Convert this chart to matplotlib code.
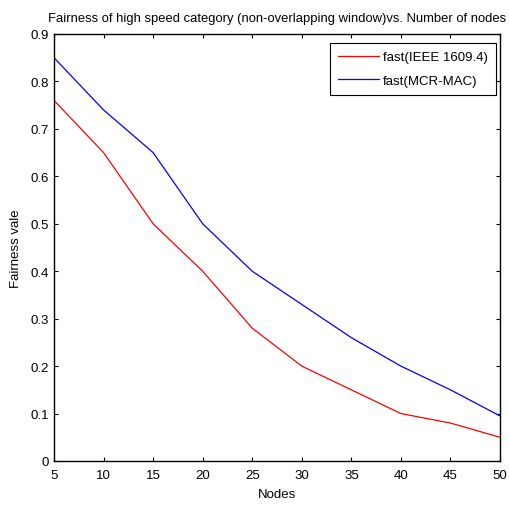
import matplotlib
matplotlib.use("Agg")
import matplotlib.pyplot as plt

nodes = [5, 10, 15, 20, 25, 30, 35, 40, 45, 50]
ieee = [0.76, 0.65, 0.50, 0.40, 0.28, 0.20, 0.15, 0.10, 0.08, 0.05]
mcr = [0.85, 0.74, 0.65, 0.50, 0.40, 0.33, 0.26, 0.20, 0.15, 0.095]
yticks = [0, 0.1, 0.2, 0.3, 0.4, 0.5, 0.6, 0.7, 0.8, 0.9]

plt.rcParams['font.family'] = ['Liberation Sans', 'DejaVu Sans']
plt.rcParams['font.size'] = 9.5

fig = plt.figure(figsize=(5.09, 5.06), dpi=100)
ax = fig.add_axes([54 / 509, 1 - 462 / 506, (500 - 54) / 509, (462 - 35) / 506])

ax.plot(nodes, ieee, color='red', lw=0.9, label='fast(IEEE 1609.4)')
ax.plot(nodes, mcr, color='blue', lw=0.9, label='fast(MCR-MAC)')

ax.set_xlim(5, 50)
ax.set_ylim(0, 0.9)
ax.set_xticks(nodes)
ax.set_yticks(yticks)
ax.set_yticklabels([f"{v:g}" for v in yticks])
ax.tick_params(direction='in', top=True, right=True, length=3, width=0.8, labelsize=9.5)
ax.tick_params(axis='x', pad=5.5)
for s in ax.spines.values():
    s.set_linewidth(1.0)

ax.set_title('Fairness of high speed category (non-overlapping window)vs. Number of nodes',
             fontsize=9.4, pad=9)
ax.set_xlabel('Nodes', fontsize=9.5, labelpad=5)
ax.set_ylabel('Fairness vale', fontsize=9.5, labelpad=6)

leg = ax.legend(loc='upper right', bbox_to_anchor=(496 / 509, 1 - 44 / 506),
                bbox_transform=fig.transFigure, borderaxespad=0,
                fancybox=False, framealpha=1, edgecolor='black',
                fontsize=9.5, handlelength=3.1, handletextpad=0.35,
                borderpad=0.6, labelspacing=0.85)
leg.get_frame().set_linewidth(0.8)

fig.savefig('out.png', dpi=100)
